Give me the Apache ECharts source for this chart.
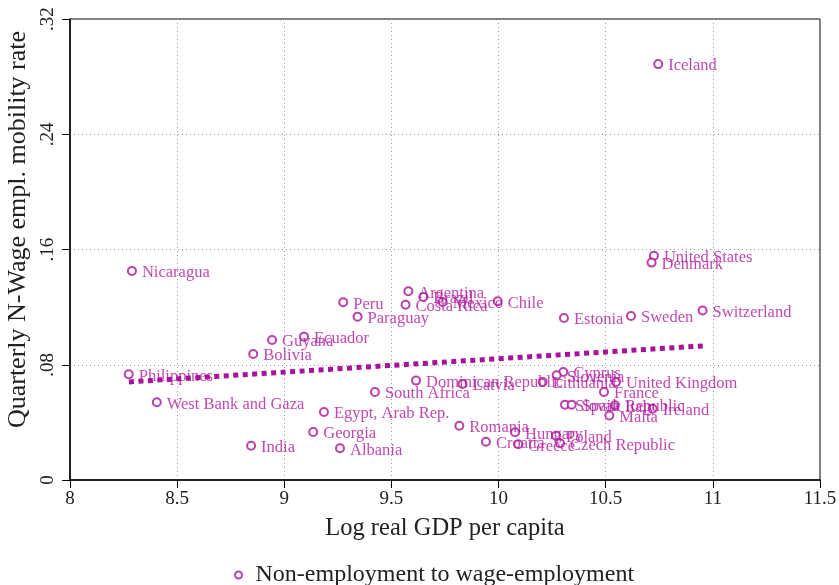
<!DOCTYPE html>
<html>
<head>
<meta charset="utf-8">
<script src="https://cdn.jsdelivr.net/npm/echarts@6/dist/echarts.min.js"></script>
<style>
  html, body { margin: 0; padding: 0; background: #ffffff; }
  #chart { width: 839px; height: 585px; }
</style>
</head>
<body>
<div id="chart"></div>
<script>
// Country names, log real GDP per capita and quarterly non-employment -> wage-employment rate
const countries = [
  'Iceland', 'Nicaragua', 'United States', 'Denmark', 'Switzerland', 'Sweden', 'Estonia',
  'Chile', 'Argentina', 'Brazil', 'Costa Rica', 'Mexico', 'Peru', 'Paraguay',
  'Ecuador', 'Guyana', 'Bolivia', 'Philippines', 'West Bank and Gaza', 'India',
  'Egypt, Arab Rep.', 'Georgia', 'Albania', 'South Africa', 'Dominican Republic', 'Latvia',
  'Romania', 'Croatia', 'Hungary', 'Greece', 'Poland', 'Czech Republic', 'Malta',
  'Cyprus', 'Slovenia', 'Lithuania', 'United Kingdom', 'France', 'Slovak Republic',
  'Spain', 'Italy', 'Ireland'
];
const logGdp = [
  10.745, 8.289, 10.725, 10.714, 10.952, 10.618, 10.305,
  9.996, 9.579, 9.649, 9.566, 9.739, 9.275, 9.342,
  9.092, 8.943, 8.855, 8.274, 8.405, 8.845,
  9.185, 9.135, 9.260, 9.423, 9.615, 9.832,
  9.817, 9.941, 10.077, 10.092, 10.268, 10.287, 10.517,
  10.302, 10.271, 10.206, 10.548, 10.492, 10.310,
  10.341, 10.543, 10.719
];
const mobilityRate = [
  0.2887, 0.1451, 0.1556, 0.1509, 0.1176, 0.1139, 0.1125,
  0.1241, 0.1310, 0.1271, 0.1217, 0.1236, 0.1234, 0.1134,
  0.0995, 0.0972, 0.0875, 0.0734, 0.0540, 0.0238,
  0.0472, 0.0333, 0.0220, 0.0611, 0.0690, 0.0667,
  0.0377, 0.0266, 0.0331, 0.0248, 0.0308, 0.0255, 0.0448,
  0.0750, 0.0727, 0.0681, 0.0681, 0.0611, 0.0523,
  0.0523, 0.0519, 0.0495
];

// Fitted line end points
const fitX = [8.275, 10.954];
const fitY = [0.0681, 0.0931];

// Axis ticks
const yTickValues = [0, 0.08, 0.16, 0.24, 0.32];
const yTickLabels = ['0', '.08', '.16', '.24', '.32'];

const seriesName = 'Non-employment to wage-employment';
const magenta = '#a8119a';
const labelColor = '#b0189e';
const serif = '"Liberation Serif", "DejaVu Serif", serif';

const points = logGdp.map((x, i) => [x, mobilityRate[i], countries[i]]);
const fitLine = fitX.map((x, i) => [x, fitY[i]]);

const chart = echarts.init(document.getElementById('chart'), null, { renderer: 'canvas' });

chart.setOption({
  animation: false,
  backgroundColor: '#ffffff',
  grid: {
    left: 70, top: 19, width: 750, height: 461,
    outerBoundsMode: 'none',
    containLabel: false,
    show: true, borderColor: '#000', borderWidth: 1, backgroundColor: 'transparent'
  },
  legend: {
    data: [seriesName],
    left: 229, top: 558,
    itemWidth: 24, itemHeight: 7,
    itemGap: 5,
    textStyle: { fontFamily: serif, fontSize: 24, color: '#222' }
  },
  xAxis: {
    type: 'value',
    min: 8, max: 11.5, interval: 0.5,
    name: 'Log real GDP per capita',
    nameLocation: 'middle',
    nameGap: 36,
    nameTextStyle: { fontFamily: serif, fontSize: 24.5, color: '#222' },
    axisLine: { show: true, onZero: false, lineStyle: { color: '#000', width: 1.5 } },
    axisTick: { show: true, inside: false, length: 8, lineStyle: { color: '#000', width: 1 } },
    axisLabel: { fontFamily: serif, fontSize: 19, color: '#222', margin: 10 },
    splitLine: { show: true, lineStyle: { color: '#999', width: 1, type: [1, 3] } }
  },
  yAxis: {
    type: 'value',
    min: 0, max: 0.32, interval: 0.08,
    name: 'Quarterly N-Wage empl. mobility rate',
    nameLocation: 'middle',
    nameRotate: 90,
    nameGap: 28,
    nameTextStyle: { fontFamily: serif, fontSize: 26, color: '#222', padding: [0, 0, 0, 40] },
    axisLine: { show: true, onZero: false, lineStyle: { color: '#000', width: 1.5 } },
    axisTick: { show: true, inside: false, length: 8, lineStyle: { color: '#000', width: 1 } },
    axisLabel: {
      rotate: 90, fontFamily: serif, fontSize: 19, color: '#222', margin: 12,
      formatter: (v) => {
        let best = 0;
        yTickValues.forEach((t, i) => { if (Math.abs(t - v) < Math.abs(yTickValues[best] - v)) best = i; });
        return yTickLabels[best];
      }
    },
    splitLine: { show: true, lineStyle: { color: '#999', width: 1, type: [1, 3] } }
  },
  series: [
    {
      name: seriesName,
      type: 'scatter',
      data: points,
      symbol: 'emptyCircle',
      symbolSize: 8,
      itemStyle: { color: magenta, borderColor: magenta, borderWidth: 2 },
      label: {
        show: true,
        position: 'right',
        distance: 5,
        offset: [0, 2],
        formatter: (p) => p.data[2],
        fontFamily: serif,
        fontSize: 16.5,
        color: labelColor
      },
      emphasis: { disabled: true },
      z: 3
    },
    {
      name: 'Fitted values',
      type: 'line',
      data: fitLine,
      showSymbol: false,
      symbol: 'none',
      lineStyle: { color: magenta, width: 5, type: [5, 4.5], cap: 'butt' },
      emphasis: { disabled: true },
      silent: true,
      z: 4
    }
  ]
});
</script>
</body>
</html>
